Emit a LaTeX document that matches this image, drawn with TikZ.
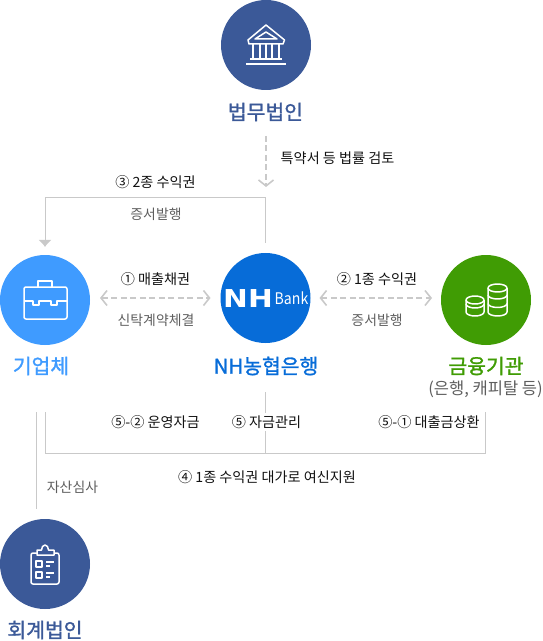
\documentclass[tikz,border=0pt]{standalone}
\usepackage{fontspec}
\setmainfont{Noto Sans CJK KR}
\newfontfamily\midfont[FakeBold=1.3]{Noto Sans CJK KR}
\newfontfamily\logofont{DejaVu Sans}
\usetikzlibrary{calc,arrows.meta}
\definecolor{navyc}{HTML}{3B5998}
\definecolor{skyc}{HTML}{3F9BFF}
\definecolor{bankc}{HTML}{076CD8}
\definecolor{greenc}{HTML}{409C04}
\definecolor{linec}{HTML}{C9C9C9}
\definecolor{inkc}{HTML}{111111}
\definecolor{softc}{HTML}{5E5E5E}
\def\px{0.75pt}
\tikzset{
	disc/.style={circle,minimum size=90*\px,inner sep=0pt,outer sep=0pt,fill=#1},
	bigtxt/.style={font=\midfont\fontsize{15.3}{15}\selectfont,text=#1,inner sep=0pt},
	numtxt/.style={font=\fontsize{10.6}{11}\selectfont,text=inkc,inner sep=0pt},
	subtxt/.style={font=\fontsize{10.4}{11}\selectfont,text=softc,inner sep=0pt},
	dashflow/.style={draw=linec,line width=1.6*\px,dash pattern=on 6*\px off 3.5*\px},
	chevron/.tip={Straight Barb[length=6*\px,width=15*\px,line width=1.6*\px]},
	plainflow/.style={draw=linec,line width=1*\px},
	icon/.style={draw=white,line width=1.5*\px,line join=round}
}
\begin{document}
\begin{tikzpicture}[x=0.75pt,y=-0.75pt]
	\useasboundingbox (0,0) rectangle (542,641);
	\node[disc=navyc] (law) at (266,45) {};
	\node[disc=skyc] (corp) at (45,300) {};
	\node[disc=bankc] (nh) at (265.5,298) {};
	\node[disc=greenc] (fin) at (486,300) {};
	\node[disc=navyc] (acct) at (45,564) {};
	\node[bigtxt=navyc] (lawname) at (265.5,112) {법무법인};
	\node[bigtxt=skyc] (corpname) at (41,366) {기업체};
	\node[bigtxt=bankc] (nhname) at (266,366) {NH농협은행};
	\node[bigtxt=greenc] (finname) at (486,366) {금융기관};
	\node[inner sep=0pt,text=softc,font=\fontsize{12.4}{13}\selectfont] (finsub) at (485.5,389) {(은행, 캐피탈 등)};
	\node[bigtxt=navyc] (acctname) at (45,630) {회계법인};
	% flows between the discs
	\coordinate (topturn) at (265.5,198);
	\coordinate (brL) at (45,412);
	\coordinate (brB) at (45,453);
	\coordinate (brR) at (485,453);
	\coordinate (brE) at (485,412);
	\coordinate (auditT) at (36,412);
	\coordinate (auditB) at (36,509);
	\draw[dashflow,-{chevron},shorten <=46*\px,shorten >=66*\px] (law.south) -- (law.south |- nh.north);
	\draw[plainflow,-{Latex[length=7*\px,width=13*\px,color=linec]},shorten <=10*\px,shorten >=8*\px]
		(nh.north) -- (topturn) -| (corp.north);
	\draw[dashflow,{chevron}-{chevron},shorten <=10*\px,shorten >=10*\px] (corp.east |- nh.west) -- (nh.west);
	\draw[dashflow,{chevron}-{chevron},shorten <=9*\px,shorten >=9*\px] (nh.east) -- (fin.west |- nh.east);
	\draw[plainflow] (brL) -- (brB) -- (brR) -- (brE);
	\draw[plainflow,shorten <=49*\px] (nh.south) -- (nh.south |- brB);
	\draw[plainflow] (auditT) -- (auditB);
	% labels
	\node[numtxt] (review) at (337.5,158) {특약서 등 법률 검토};
	\node[numtxt] (third) at (155.5,182) {③ 2종 수익권};
	\node[subtxt] (thirdsub) at (156,214) {증서발행};
	\node[numtxt] (first) at (155.5,279) {① 매출채권};
	\node[subtxt] (firstsub) at (156,320) {신탁계약체결};
	\node[numtxt] (second) at (377,279) {② 1종 수익권};
	\node[subtxt] (secondsub) at (377,320) {증서발행};
	\node[numtxt] (fivetwo) at (155.5,422) {⑤-② 운영자금};
	\node[numtxt,fill=white,inner ysep=2pt] (five) at (266.5,422) {⑤ 자금관리};
	\node[numtxt] (fiveone) at (429,422) {⑤-① 대출금상환};
	\node[numtxt] (fourth) at (267,477) {④ 1종 수익권 대가로 여신지원};
	\node[subtxt] (audit) at (72.5,487) {자산심사};
	% bank icon
	\draw[icon] (266,25) -- (248,40) -- (249,44) -- (283,44) -- (284.5,40) -- cycle; %roof
	\draw[icon] (266,32) -- (255,39) -- (277,39) -- cycle;
	\foreach \colx in {253,260,266,272,279}
		\draw[icon] (\colx,44) -- (\colx,59);
	\draw[icon] (250,59) -- (282,59);
	\draw[icon] (246,64) -- (286,64);
	% briefcase icon
	\draw[icon,rounded corners=1.5pt] (24,287) rectangle (67,319);
	\draw[icon] (38,287) -- (38,281) -- (52,281) -- (52,287);
	\draw[icon] (24,301) -- (33,301) -- (33,305) -- (39,305) -- (39,301) -- (51,301) -- (51,305) -- (57,305) -- (57,301) -- (67,301);
	% NH logo
	\node[inner sep=0pt,text=white,xscale=1.2,font=\logofont\fontsize{18.5}{18}\selectfont\bfseries] (logonh) at (248,298.5) {NH};
	\node[inner sep=0pt,text=white,xscale=0.88,font=\fontsize{12}{12}\selectfont] (logobank) at (291.5,298) {Bank};
	% coins icon
	\foreach \stackx/\stacktop/\stackw in {475/300/9,497.5/288/9.5}{
		\draw[icon] (\stackx-\stackw,\stacktop) -- (\stackx-\stackw,312) arc[start angle=180,end angle=0,x radius=\stackw,y radius=4] -- (\stackx+\stackw,\stacktop);
		\draw[icon] (\stackx,\stacktop) circle[x radius=\stackw,y radius=4];
	}
	\foreach \liney in {304}
		\draw[icon] (466,\liney) arc[start angle=180,end angle=0,x radius=9,y radius=4];
	\foreach \liney in {295,303.5}
		\draw[icon] (488,\liney) arc[start angle=180,end angle=0,x radius=9.5,y radius=4];
	% clipboard icon
	\draw[icon,rounded corners=1.5pt] (37,553) -- (31,553) -- (31,584) -- (59,584) -- (59,553) -- (54,553);
	\draw[icon] (37,555) -- (37,550) -- (41.5,550) arc[start angle=180,end angle=360,x radius=3.5,y radius=5] -- (54,550) -- (54,555) -- cycle;
	\draw[icon] (36,561) rectangle (42,567);
	\draw[icon] (36,572) rectangle (42,578);
	\draw[icon] (46,562) -- (54,562);
	\draw[icon] (46,566) -- (50,566);
	\draw[icon] (46,573) -- (54,573);
	\draw[icon] (46,577) -- (50,577);
\end{tikzpicture}
\end{document}
